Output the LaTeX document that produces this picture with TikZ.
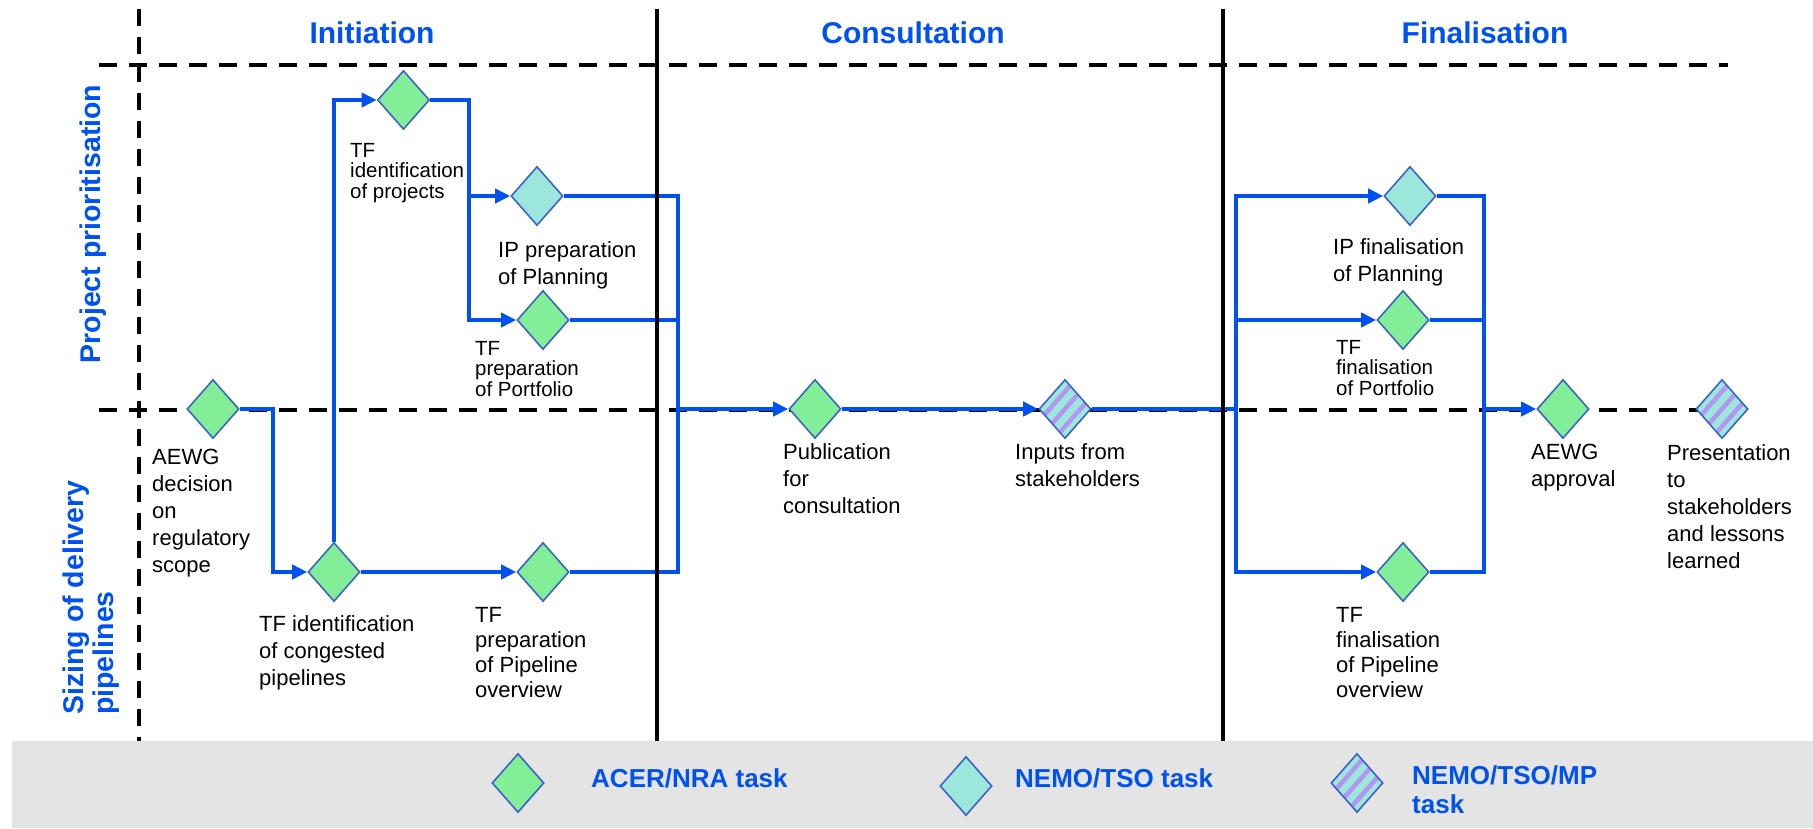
\documentclass[tikz,border=0pt]{standalone}
\usepackage{fontspec}
\setmainfont{Liberation Sans}
\usetikzlibrary{shapes.geometric,arrows.meta,calc}
\definecolor{hblue}{RGB}{0,82,240}
\definecolor{dgreen}{RGB}{130,238,152}
\definecolor{dcyan}{RGB}{156,230,220}
\definecolor{dpurple}{RGB}{180,150,240}
\definecolor{dborder}{RGB}{60,100,200}
\definecolor{band}{RGB}{228,228,228}
\tikzset{
  dia/.style={shape=diamond, draw=dborder, line width=1.6pt, minimum width=52pt, minimum height=59pt, inner sep=0pt},
  acer/.style={dia, fill=dgreen},
  tso/.style={dia, fill=dcyan},
  mptask/.style={dia, fill=dcyan, path picture={
      \foreach \v in {0.2,0.5,0.8}
        \draw[dpurple, line width=4.5pt]
          ($(path picture bounding box.west)!\v!(path picture bounding box.south)$) --
          ($(path picture bounding box.north)!\v!(path picture bounding box.east)$);
    }},
  flow/.style={draw=hblue, line width=4.6pt},
  arr/.style={flow, -{Triangle[length=15pt,width=14pt]}},
  lbl/.style={anchor=north west, inner sep=0pt, align=left, font=\fontsize{22}{27}\selectfont},
  lbls/.style={lbl, font=\fontsize{20.5}{20.5}\selectfont},
  lblm/.style={lbl, font=\fontsize{22}{25}\selectfont},
  head/.style={font=\bfseries\fontsize{30}{36}\selectfont, text=hblue, anchor=base, inner sep=0pt},
  lane/.style={font=\bfseries\fontsize{28.5}{30}\selectfont, text=hblue, rotate=90, inner sep=0pt, align=left},
  legendtxt/.style={font=\bfseries\fontsize{26}{29}\selectfont, text=hblue, inner sep=0pt, align=left},
  dashline/.style={line width=4pt, dash pattern=on 18pt off 12pt},
  vdashline/.style={line width=4pt, dash pattern=on 17pt off 11pt},
  phase/.style={line width=3.5pt},
}
\begin{document}
\begin{tikzpicture}[x=1pt,y=-1pt]
\useasboundingbox (0,0) rectangle (1813,828);
% legend band
\fill[band] (12,741) rectangle (1813,828);
% dashed lane lines
\draw[dashline] (99,65) -- (1728,65);
\draw[dashline] (99,410) -- (1728,410);
\draw[vdashline] (139,9) -- (139,741);

% headings
\node[head] (hinit) at (372,43) {Initiation};
\node[head] (hcons) at (913,43) {Consultation};
\node[head] (hfin) at (1485,43) {Finalisation};
\node[lane, anchor=north] (lane1) at (79.5,224) {Project prioritisation};
\node[lane, anchor=north west] (lane2) at (62.5,715) {Sizing of delivery\\pipelines};

% diamonds
\node[acer] (aewg) at (213,409) {};
\node[acer] (tfproj) at (403.5,100) {};
\node[tso] (ipprep) at (537,196) {};
\node[acer] (tfport) at (543,320) {};
\node[acer] (tfcong) at (334,572) {};
\node[acer] (tfpipe) at (543,572) {};
\node[acer] (pub) at (815,409) {};
\node[mptask] (inputs) at (1065,409) {};
\node[tso] (ipfin) at (1410,196) {};
\node[acer] (tffport) at (1403,320) {};
\node[acer] (tffpipe) at (1403,572) {};
\node[acer] (approval) at (1563,409) {};
\node[mptask] (present) at (1722,409) {};

% labels
\node[lbls] (ltfproj) at (350,143) {TF\\identification\\of projects};
\node[lbl] (lipprep) at (498,241) {IP preparation\\of Planning};
\node[lbls] (ltfport) at (475,341) {TF\\preparation\\of Portfolio};
\node[lbl] (laewg) at (152,449) {AEWG\\decision\\on\\regulatory\\scope};
\node[lbl] (ltfcong) at (259,615) {TF identification\\of congested\\pipelines};
\node[lblm] (ltfpipe) at (475,607) {TF\\preparation\\of Pipeline\\overview};
\node[lbl] (lpub) at (783,443) {Publication\\for\\consultation};
\node[lbl] (linputs) at (1015,443) {Inputs from\\stakeholders};
\node[lbl] (lipfin) at (1333,238) {IP finalisation\\of Planning};
\node[lbls] (ltffport) at (1336,340) {TF\\finalisation\\of Portfolio};
\node[lbl] (lapproval) at (1531,444) {AEWG\\approval};
\node[lbl] (lpresent) at (1667,444) {Presentation\\to\\stakeholders\\and lessons\\learned};
\node[lblm] (ltffpipe) at (1336,607) {TF\\finalisation\\of Pipeline\\overview};

% bend coordinates
\coordinate (b1) at (273,409);
\coordinate (b2) at (469,196);
\coordinate (m1) at (678,409);
\coordinate (f1) at (1236,409);
\coordinate (m2) at (1484,409);

% connectors
\draw[arr] (aewg.east) -- (b1) |- (tfcong.west);
\draw[arr] (tfcong.north) |- (tfproj.west);
\draw[arr] (tfcong.east) -- (tfpipe.west);
\draw[arr] (tfproj.east) -| (b2) |- (tfport.west);
\draw[arr] (b2) -- (ipprep.west);
\draw[flow] (ipprep.east) -| (m1);
\draw[flow] (tfport.east) -| (m1);
\draw[flow] (tfpipe.east) -| (m1);
\draw[arr] (m1) -- (pub.west);
\draw[arr] (pub.east) -- (inputs.west);
\draw[flow] (inputs.east) -- (f1);
\draw[arr] (f1) |- (ipfin.west);
\draw[arr] (f1) |- (tffport.west);
\draw[arr] (f1) |- (tffpipe.west);
\draw[flow] (ipfin.east) -| (m2);
\draw[flow] (tffport.east) -| (m2);
\draw[flow] (tffpipe.east) -| (m2);
\draw[arr] (m2) -- (approval.west);

% phase separators
\draw[phase] (657,9) -- (657,741);
\draw[phase] (1223,9) -- (1223,741);

% legend
\node[acer] (lg1) at (518,783) {};
\node[legendtxt, anchor=base west] (lt1) at (591,787) {ACER/NRA task};
\node[tso] (lg2) at (966,786) {};
\node[legendtxt, anchor=base west] (lt2) at (1015,787) {NEMO/TSO task};
\node[mptask] (lg3) at (1357,783) {};
\node[legendtxt, anchor=north west] (lt3) at (1412,765) {NEMO/TSO/MP\\task};
\end{tikzpicture}
\end{document}
